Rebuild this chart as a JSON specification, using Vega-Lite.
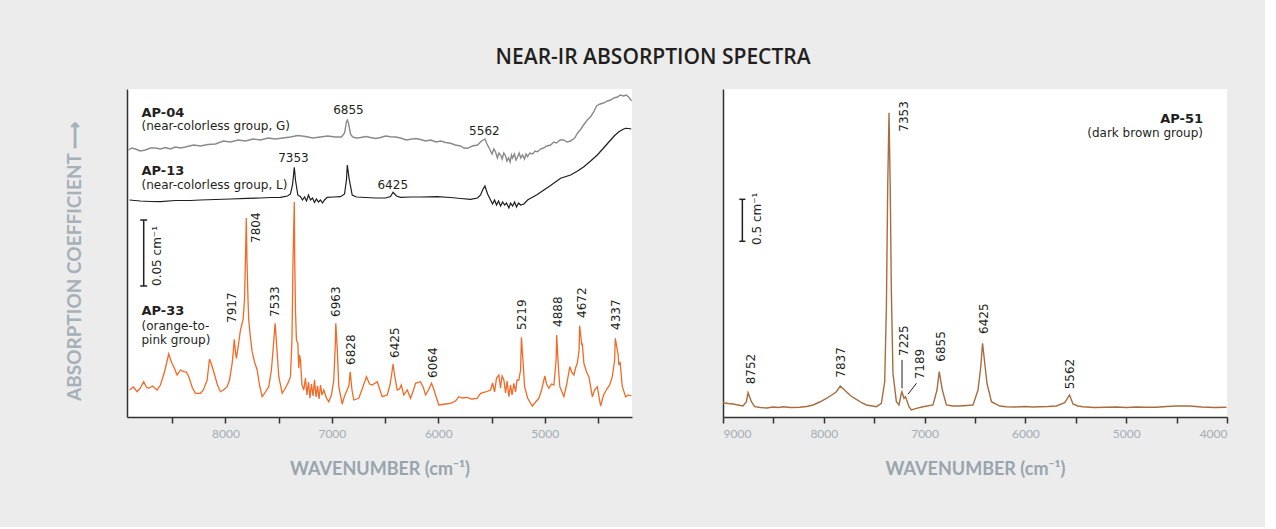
{
  "$schema": "https://vega.github.io/schema/vega-lite/v6.json",
  "background": "#ececec",
  "padding": {"left": 65, "top": 47, "right": 35, "bottom": 49},
  "title": {"text": "NEAR-IR ABSORPTION SPECTRA", "anchor": "middle", "font": "Open Sans", "fontSize": 21, "fontWeight": 600, "color": "#231f20", "offset": 21, "dx": 6},
  "config": {
    "view": {"stroke": null, "fill": "white"},
    "text": {"font": "DejaVu Sans", "fontSize": 12, "color": "#231f20"},
    "axis": {"grid": false}
  },
  "datasets": {
    "ap04": [
      {"w":8912,"a":267},{"w":8880,"a":269},{"w":8846,"a":268},{"w":8800,"a":266},{"w":8752,"a":267},{"w":8705,"a":269},{"w":8658,"a":269},{"w":8610,"a":268},{"w":8564,"a":269.5},{"w":8517,"a":268},{"w":8470,"a":270},{"w":8420,"a":269},{"w":8376,"a":270},{"w":8300,"a":272},{"w":8235,"a":271},{"w":8165,"a":272.5},{"w":8094,"a":273},{"w":8020,"a":276},{"w":7953,"a":275},{"w":7880,"a":277},{"w":7812,"a":276},{"w":7740,"a":278},{"w":7671,"a":277},{"w":7600,"a":279},{"w":7530,"a":278},{"w":7460,"a":279},{"w":7389,"a":280},{"w":7320,"a":281.5},{"w":7248,"a":280.5},{"w":7180,"a":279},{"w":7107,"a":280},{"w":7040,"a":281},{"w":6966,"a":280},{"w":6910,"a":280},{"w":6881,"a":284},{"w":6863,"a":295},{"w":6855,"a":297},{"w":6844,"a":294},{"w":6825,"a":283},{"w":6806,"a":280},{"w":6770,"a":279},{"w":6731,"a":279.5},{"w":6680,"a":280.5},{"w":6637,"a":279.5},{"w":6590,"a":278.5},{"w":6543,"a":279.5},{"w":6495,"a":281},{"w":6449,"a":280.3},{"w":6400,"a":280},{"w":6355,"a":279},{"w":6300,"a":277},{"w":6261,"a":277.7},{"w":6210,"a":278.5},{"w":6167,"a":277.5},{"w":6120,"a":276},{"w":6073,"a":277},{"w":6020,"a":275},{"w":5979,"a":276},{"w":5930,"a":274.5},{"w":5885,"a":273.7},{"w":5840,"a":272},{"w":5791,"a":271},{"w":5760,"a":269},{"w":5725,"a":268.7},{"w":5680,"a":271},{"w":5631,"a":272},{"w":5594,"a":276},{"w":5562,"a":278},{"w":5547,"a":274},{"w":5518,"a":268},{"w":5495,"a":263},{"w":5478,"a":268},{"w":5462,"a":265},{"w":5445,"a":259},{"w":5430,"a":264},{"w":5415,"a":262},{"w":5400,"a":258},{"w":5385,"a":264},{"w":5368,"a":261},{"w":5355,"a":256},{"w":5340,"a":259},{"w":5325,"a":255},{"w":5312,"a":262},{"w":5302,"a":259},{"w":5285,"a":263},{"w":5270,"a":257},{"w":5255,"a":260},{"w":5240,"a":264},{"w":5225,"a":259},{"w":5208,"a":262},{"w":5190,"a":258},{"w":5175,"a":263},{"w":5161,"a":260.3},{"w":5140,"a":264},{"w":5114,"a":263},{"w":5090,"a":266},{"w":5067,"a":265.3},{"w":5040,"a":268},{"w":5011,"a":269},{"w":4980,"a":271},{"w":4945,"a":272},{"w":4915,"a":275},{"w":4889,"a":274},{"w":4855,"a":277},{"w":4823,"a":277},{"w":4790,"a":275},{"w":4757,"a":276},{"w":4719,"a":279},{"w":4691,"a":284},{"w":4660,"a":288},{"w":4635,"a":292},{"w":4600,"a":297},{"w":4569,"a":300.3},{"w":4540,"a":305},{"w":4513,"a":311},{"w":4480,"a":313},{"w":4447,"a":314},{"w":4410,"a":316},{"w":4381,"a":317},{"w":4350,"a":319},{"w":4315,"a":320},{"w":4290,"a":322},{"w":4259,"a":321},{"w":4235,"a":322},{"w":4212,"a":320},{"w":4184,"a":316.3}
    ],
    "ap13": [
      {"w":8902,"a":217},{"w":8799,"a":216},{"w":8705,"a":215.5},{"w":8611,"a":215.3},{"w":8470,"a":216.5},{"w":8329,"a":216.5},{"w":8235,"a":217},{"w":8094,"a":217.5},{"w":7953,"a":218},{"w":7796,"a":218.7},{"w":7671,"a":219},{"w":7577,"a":219.5},{"w":7483,"a":219.7},{"w":7417,"a":221},{"w":7389,"a":223},{"w":7370,"a":232},{"w":7353,"a":249.7},{"w":7342,"a":237},{"w":7320,"a":222},{"w":7295,"a":220.3},{"w":7276,"a":217},{"w":7257,"a":220},{"w":7238,"a":216},{"w":7220,"a":222},{"w":7201,"a":217},{"w":7182,"a":219},{"w":7163,"a":214.5},{"w":7145,"a":218},{"w":7126,"a":215},{"w":7107,"a":217},{"w":7088,"a":214},{"w":7069,"a":217},{"w":7044,"a":219.7},{"w":6985,"a":220},{"w":6919,"a":220.3},{"w":6881,"a":223},{"w":6863,"a":237},{"w":6855,"a":252},{"w":6839,"a":239},{"w":6809,"a":222},{"w":6769,"a":220},{"w":6684,"a":219.5},{"w":6590,"a":219},{"w":6496,"a":219},{"w":6449,"a":220.5},{"w":6425,"a":224.7},{"w":6393,"a":221},{"w":6355,"a":219.7},{"w":6261,"a":220},{"w":6167,"a":220},{"w":6010,"a":220.3},{"w":5885,"a":219.5},{"w":5791,"a":218.5},{"w":5697,"a":217.7},{"w":5631,"a":219},{"w":5603,"a":222},{"w":5584,"a":227},{"w":5562,"a":231},{"w":5537,"a":223},{"w":5509,"a":217},{"w":5490,"a":213},{"w":5471,"a":217},{"w":5453,"a":212},{"w":5434,"a":216},{"w":5415,"a":211},{"w":5396,"a":215},{"w":5377,"a":212},{"w":5359,"a":214},{"w":5337,"a":209},{"w":5321,"a":214},{"w":5302,"a":211},{"w":5283,"a":215},{"w":5265,"a":210},{"w":5246,"a":214},{"w":5227,"a":212},{"w":5196,"a":213},{"w":5161,"a":217},{"w":5133,"a":218.7},{"w":5077,"a":222},{"w":5008,"a":227},{"w":4945,"a":231.5},{"w":4851,"a":238.7},{"w":4757,"a":242},{"w":4691,"a":246},{"w":4632,"a":250.3},{"w":4569,"a":256},{"w":4506,"a":262},{"w":4447,"a":269},{"w":4381,"a":277},{"w":4343,"a":281.5},{"w":4303,"a":285.3},{"w":4268,"a":287.5},{"w":4240,"a":288.7},{"w":4212,"a":288.5},{"w":4187,"a":288}
    ],
    "ap33": [
      {"w":8900,"a":27},{"w":8865,"a":30},{"w":8830,"a":25.3},{"w":8799,"a":29},{"w":8768,"a":35.3},{"w":8743,"a":30},{"w":8721,"a":28.7},{"w":8686,"a":31},{"w":8642,"a":27},{"w":8611,"a":32},{"w":8573,"a":45},{"w":8533,"a":63},{"w":8508,"a":55},{"w":8486,"a":50.3},{"w":8454,"a":42},{"w":8423,"a":47},{"w":8392,"a":45.3},{"w":8367,"a":45},{"w":8345,"a":40.3},{"w":8310,"a":29},{"w":8282,"a":23.7},{"w":8235,"a":23.7},{"w":8207,"a":27},{"w":8172,"a":37},{"w":8150,"a":58},{"w":8132,"a":53},{"w":8110,"a":45.3},{"w":8075,"a":32},{"w":8047,"a":25.3},{"w":8019,"a":27},{"w":7984,"a":30.3},{"w":7962,"a":37},{"w":7937,"a":53.7},{"w":7925,"a":67},{"w":7917,"a":77.7},{"w":7906,"a":65},{"w":7897,"a":58.7},{"w":7878,"a":72},{"w":7859,"a":87},{"w":7834,"a":97.7},{"w":7821,"a":117},{"w":7812,"a":157},{"w":7804,"a":199},{"w":7798,"a":157},{"w":7788,"a":117},{"w":7781,"a":97},{"w":7765,"a":79},{"w":7749,"a":65.3},{"w":7727,"a":55},{"w":7702,"a":47},{"w":7680,"a":32},{"w":7655,"a":20.3},{"w":7624,"a":25},{"w":7593,"a":30.3},{"w":7568,"a":47},{"w":7549,"a":72},{"w":7533,"a":93.7},{"w":7516,"a":67},{"w":7499,"a":40.3},{"w":7467,"a":23.7},{"w":7436,"a":29},{"w":7408,"a":35},{"w":7389,"a":40.3},{"w":7375,"a":77},{"w":7365,"a":157},{"w":7353,"a":215},{"w":7349,"a":157},{"w":7342,"a":107},{"w":7333,"a":77},{"w":7320,"a":73.7},{"w":7311,"a":48.7},{"w":7304,"a":62},{"w":7295,"a":57},{"w":7281,"a":32},{"w":7264,"a":27},{"w":7248,"a":39},{"w":7234,"a":22},{"w":7220,"a":35},{"w":7206,"a":19},{"w":7192,"a":33},{"w":7177,"a":21},{"w":7163,"a":37},{"w":7149,"a":20},{"w":7135,"a":31},{"w":7121,"a":18},{"w":7107,"a":32},{"w":7093,"a":22},{"w":7076,"a":27},{"w":7051,"a":19},{"w":7029,"a":15.3},{"w":7004,"a":22},{"w":6982,"a":37},{"w":6968,"a":72},{"w":6963,"a":93.7},{"w":6949,"a":67},{"w":6935,"a":30.3},{"w":6903,"a":13},{"w":6881,"a":21},{"w":6856,"a":27},{"w":6839,"a":32},{"w":6828,"a":45.3},{"w":6811,"a":27},{"w":6794,"a":17},{"w":6747,"a":18.7},{"w":6712,"a":29},{"w":6675,"a":40.3},{"w":6646,"a":33},{"w":6621,"a":32},{"w":6574,"a":35.3},{"w":6527,"a":20.3},{"w":6480,"a":22},{"w":6454,"a":32},{"w":6435,"a":45},{"w":6425,"a":53},{"w":6411,"a":42},{"w":6386,"a":27},{"w":6364,"a":28},{"w":6348,"a":32},{"w":6324,"a":22},{"w":6292,"a":27},{"w":6261,"a":18.7},{"w":6233,"a":27},{"w":6214,"a":33.7},{"w":6167,"a":35.3},{"w":6139,"a":29},{"w":6120,"a":22},{"w":6092,"a":27},{"w":6064,"a":33.7},{"w":6040,"a":27},{"w":6026,"a":22},{"w":5995,"a":12},{"w":5932,"a":13},{"w":5885,"a":13.7},{"w":5838,"a":16},{"w":5807,"a":20.3},{"w":5772,"a":19},{"w":5728,"a":19.7},{"w":5688,"a":18},{"w":5634,"a":18.7},{"w":5603,"a":23.7},{"w":5556,"a":25},{"w":5509,"a":27},{"w":5490,"a":34},{"w":5471,"a":25},{"w":5453,"a":39},{"w":5431,"a":42},{"w":5415,"a":29},{"w":5401,"a":41},{"w":5384,"a":37},{"w":5368,"a":24},{"w":5354,"a":36},{"w":5337,"a":20.3},{"w":5321,"a":32},{"w":5307,"a":22},{"w":5290,"a":33.7},{"w":5274,"a":25},{"w":5260,"a":37},{"w":5243,"a":37},{"w":5227,"a":47},{"w":5219,"a":79.7},{"w":5199,"a":47},{"w":5189,"a":30.3},{"w":5161,"a":19},{"w":5117,"a":11},{"w":5086,"a":15},{"w":5055,"a":18.7},{"w":5030,"a":27},{"w":4999,"a":41},{"w":4983,"a":33},{"w":4961,"a":28.7},{"w":4936,"a":33},{"w":4914,"a":32},{"w":4893,"a":57},{"w":4888,"a":82},{"w":4870,"a":47},{"w":4858,"a":30.3},{"w":4820,"a":20.3},{"w":4795,"a":32},{"w":4764,"a":50.3},{"w":4748,"a":45},{"w":4726,"a":42},{"w":4710,"a":49},{"w":4694,"a":53.7},{"w":4677,"a":67},{"w":4672,"a":91.3},{"w":4652,"a":72},{"w":4647,"a":73.7},{"w":4632,"a":53.7},{"w":4607,"a":45},{"w":4585,"a":40.3},{"w":4553,"a":20.3},{"w":4531,"a":27},{"w":4506,"a":30.3},{"w":4475,"a":11},{"w":4447,"a":22},{"w":4412,"a":28.7},{"w":4390,"a":32},{"w":4365,"a":40.3},{"w":4343,"a":57},{"w":4337,"a":78.7},{"w":4310,"a":62},{"w":4303,"a":52},{"w":4292,"a":55},{"w":4271,"a":30.3},{"w":4240,"a":20.3},{"w":4212,"a":22},{"w":4186,"a":21}
    ],
    "ap51": [
      {"w":9000,"a":14.3},{"w":8950,"a":13.5},{"w":8901,"a":13},{"w":8850,"a":12},{"w":8802,"a":11},{"w":8768,"a":15.3},{"w":8752,"a":24.3},{"w":8718,"a":15.3},{"w":8686,"a":10.3},{"w":8630,"a":9.5},{"w":8569,"a":9},{"w":8500,"a":10},{"w":8450,"a":9.5},{"w":8405,"a":10.3},{"w":8330,"a":9.5},{"w":8239,"a":9.7},{"w":8170,"a":10.5},{"w":8107,"a":12},{"w":8040,"a":15},{"w":7974,"a":18.7},{"w":7920,"a":22},{"w":7875,"a":25.3},{"w":7837,"a":31},{"w":7776,"a":25.3},{"w":7730,"a":21},{"w":7677,"a":17.7},{"w":7620,"a":14},{"w":7577,"a":12},{"w":7478,"a":10.3},{"w":7429,"a":13.7},{"w":7396,"a":35},{"w":7379,"a":110},{"w":7366,"a":230},{"w":7353,"a":304.3},{"w":7341,"a":230},{"w":7330,"a":127},{"w":7314,"a":43.7},{"w":7280,"a":15.3},{"w":7254,"a":12},{"w":7230,"a":23.7},{"w":7225,"a":25.3},{"w":7204,"a":18.7},{"w":7189,"a":20.3},{"w":7155,"a":10.3},{"w":7131,"a":7},{"w":7081,"a":8.7},{"w":7016,"a":10.3},{"w":6917,"a":12},{"w":6877,"a":27},{"w":6855,"a":45.3},{"w":6824,"a":27},{"w":6784,"a":12},{"w":6720,"a":11},{"w":6652,"a":11},{"w":6580,"a":11.5},{"w":6520,"a":12},{"w":6470,"a":27},{"w":6443,"a":50},{"w":6425,"a":73.7},{"w":6399,"a":50},{"w":6381,"a":33.7},{"w":6337,"a":15.3},{"w":6255,"a":11},{"w":6189,"a":10.3},{"w":6100,"a":10},{"w":6000,"a":10.5},{"w":5930,"a":10},{"w":5858,"a":10.3},{"w":5780,"a":10.5},{"w":5693,"a":11},{"w":5610,"a":14.3},{"w":5562,"a":22},{"w":5528,"a":13},{"w":5480,"a":11},{"w":5429,"a":10.3},{"w":5320,"a":9.5},{"w":5197,"a":9.7},{"w":5100,"a":10},{"w":5000,"a":9.5},{"w":4900,"a":10},{"w":4800,"a":9.7},{"w":4701,"a":9.7},{"w":4600,"a":10.5},{"w":4500,"a":11},{"w":4370,"a":11},{"w":4250,"a":10},{"w":4120,"a":9.5},{"w":4006,"a":9.7}
    ],
    "lBold": [{"w":8789,"a":300.3,"t":"AP-04"},{"w":8789,"a":242,"t":"AP-13"},{"w":8789,"a":102,"t":"AP-33"}],
    "lNorm": [{"w":8789,"a":287,"t":"(near-colorless group, G)"},{"w":8789,"a":228.5,"t":"(near-colorless group, L)"},{"w":8789,"a":87,"t":"(orange-to-"},{"w":8789,"a":73,"t":"pink group)"}],
    "lPeakH": [{"w":6844,"a":303.5,"t":"6855"},{"w":7361,"a":255,"t":"7353"},{"w":5567,"a":282.5,"t":"5562"},{"w":6428,"a":228,"t":"6425"}],
    "lPeakV": [{"w":7934,"a":94,"t":"7917"},{"w":7713,"a":174,"t":"7804"},{"w":7530,"a":100,"t":"7533"},{"w":6961,"a":100,"t":"6963"},{"w":6820,"a":52,"t":"6828"},{"w":6405,"a":59,"t":"6425"},{"w":6050,"a":39,"t":"6064"},{"w":5218,"a":87,"t":"5219"},{"w":4873,"a":90,"t":"4888"},{"w":4654,"a":99,"t":"4672"},{"w":4328,"a":87,"t":"4337"},{"w":8642,"a":131,"t":"0.05 cm⁻¹"}],
    "lRules": [{"w":8768,"w2":8768,"a":131,"a2":197},{"w":8801,"w2":8735,"a":197,"a2":197},{"w":8801,"w2":8735,"a":131,"a2":131}],
    "rBold": [{"w":4238,"a":294.3,"t":"AP-51"}],
    "rNorm": [{"w":4238,"a":280,"t":"(dark brown group)"}],
    "rPeakV": [{"w":7202,"a":285.3,"t":"7353"},{"w":8722,"a":32.7,"t":"8752"},{"w":7829,"a":39.3,"t":"7837"},{"w":7209,"a":61,"t":"7225"},{"w":7046,"a":37.7,"t":"7189"},{"w":6842,"a":55.3,"t":"6855"},{"w":6407,"a":83,"t":"6425"},{"w":5553,"a":27.7,"t":"5562"},{"w":8658,"a":172,"t":"0.5 cm⁻¹"}],
    "rRules": [{"w":8808,"w2":8808,"a":175.7,"a2":217.7},{"w":8838,"w2":8778,"a":217.7,"a2":217.7},{"w":8838,"w2":8778,"a":175.7,"a2":175.7}],
    "rLead": [{"w":7224,"w2":7224,"a":57,"a2":28.7},{"w":7081,"w2":7165,"a":33.7,"a2":22.7}]
  },
  "hconcat": [
    {
      "width": 505,
      "height": 328,
      "encoding": {
        "x": {"field": "w", "type": "quantitative",
          "scale": {"domain": [4180, 8925], "reverse": true, "nice": false, "zero": false},
          "axis": {"title": "WAVENUMBER (cm⁻¹)", "values": [8500, 8000, 7500, 7000, 6500, 6000, 5500, 5000, 4500],
            "labelExpr": "datum.value % 1000 === 0 ? format(datum.value, 'd') : ''",
            "tickSize": 6, "tickWidth": 1.5, "tickColor": "#333333", "domainColor": "#333333", "domainWidth": 1.5,
            "labelColor": "#a3adb5", "labelFontSize": 12, "labelFont": "Lato", "labelPadding": 5,
            "titleColor": "#98a5ae", "titleFontSize": 18, "titleFont": "Lato", "titleFontWeight": "bold", "titlePadding": 21}},
        "y": {"field": "a", "type": "quantitative",
          "scale": {"domain": [0, 328], "nice": false, "zero": false},
          "axis": {"title": "ABSORPTION COEFFICIENT ⟶", "labels": false, "ticks": false, "domainColor": "#333333", "domainWidth": 1.5,
            "titleColor": "#a6b0b8", "titleFontSize": 19, "titleFont": "Lato", "titleFontWeight": "bold", "titlePadding": 43, "titleY": 172}}
      },
      "layer": [
        {"data": {"name": "ap04"}, "mark": {"type": "line", "color": "#8a8a8a", "strokeWidth": 1.4}},
        {"data": {"name": "ap13"}, "mark": {"type": "line", "color": "#1e1e1e", "strokeWidth": 1.2}},
        {"data": {"name": "ap33"}, "mark": {"type": "line", "color": "#f26a26", "strokeWidth": 1.3}},
        {"data": {"name": "lRules"}, "mark": {"type": "rule", "color": "#231f20", "strokeWidth": 1.5},
          "encoding": {"x2": {"field": "w2"}, "y2": {"field": "a2"}}},
        {"data": {"name": "lBold"}, "mark": {"type": "text", "align": "left", "baseline": "alphabetic", "fontWeight": "bold", "fontSize": 13},
          "encoding": {"text": {"field": "t"}}},
        {"data": {"name": "lNorm"}, "mark": {"type": "text", "align": "left", "baseline": "alphabetic"},
          "encoding": {"text": {"field": "t"}}},
        {"data": {"name": "lPeakH"}, "mark": {"type": "text", "align": "center", "baseline": "alphabetic"},
          "encoding": {"text": {"field": "t"}}},
        {"data": {"name": "lPeakV"}, "mark": {"type": "text", "align": "left", "baseline": "middle", "angle": 270},
          "encoding": {"text": {"field": "t"}}}
      ]
    },
    {
      "width": 504,
      "height": 328,
      "encoding": {
        "x": {"field": "w", "type": "quantitative",
          "scale": {"domain": [4000, 9000], "reverse": true, "nice": false, "zero": false},
          "axis": {"title": "WAVENUMBER (cm⁻¹)", "values": [9000, 8500, 8000, 7500, 7000, 6500, 6000, 5500, 5000, 4500, 4000],
            "labelExpr": "datum.value % 1000 === 0 ? format(datum.value, 'd') : ''",
            "tickSize": 6, "tickWidth": 1.5, "tickColor": "#333333", "domainColor": "#333333", "domainWidth": 1.5,
            "labelColor": "#a3adb5", "labelFontSize": 12, "labelFont": "Lato", "labelPadding": 5,
            "titleColor": "#98a5ae", "titleFontSize": 18, "titleFont": "Lato", "titleFontWeight": "bold", "titlePadding": 21}},
        "y": {"field": "a", "type": "quantitative",
          "scale": {"domain": [0, 328], "nice": false, "zero": false},
          "axis": {"title": null, "labels": false, "ticks": false, "domainColor": "#333333", "domainWidth": 1.5}}
      },
      "layer": [
        {"data": {"name": "ap51"}, "mark": {"type": "line", "color": "#a86d3f", "strokeWidth": 1.4}},
        {"data": {"name": "rRules"}, "mark": {"type": "rule", "color": "#231f20", "strokeWidth": 1.5},
          "encoding": {"x2": {"field": "w2"}, "y2": {"field": "a2"}}},
        {"data": {"name": "rLead"}, "mark": {"type": "rule", "color": "#231f20", "strokeWidth": 1},
          "encoding": {"x2": {"field": "w2"}, "y2": {"field": "a2"}}},
        {"data": {"name": "rBold"}, "mark": {"type": "text", "align": "right", "baseline": "alphabetic", "fontWeight": "bold", "fontSize": 13},
          "encoding": {"text": {"field": "t"}}},
        {"data": {"name": "rNorm"}, "mark": {"type": "text", "align": "right", "baseline": "alphabetic"},
          "encoding": {"text": {"field": "t"}}},
        {"data": {"name": "rPeakV"}, "mark": {"type": "text", "align": "left", "baseline": "middle", "angle": 270},
          "encoding": {"text": {"field": "t"}}}
      ]
    }
  ],
  "spacing": 91,
  "bounds": "flush"
}
